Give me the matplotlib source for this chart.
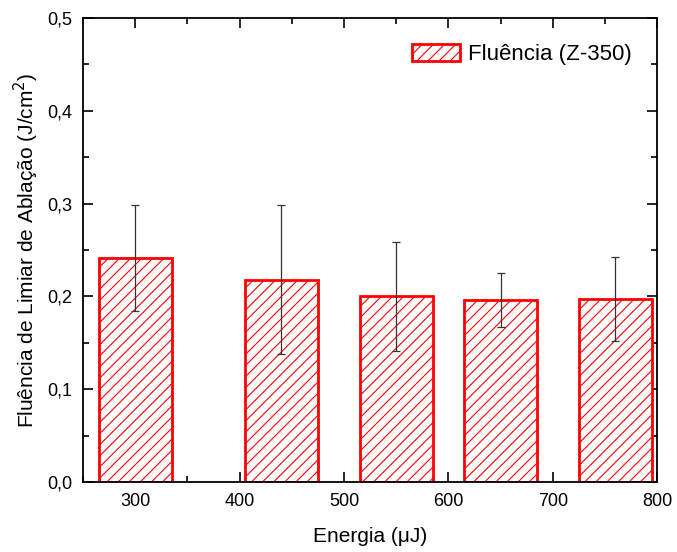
import matplotlib
matplotlib.use('Agg')
import matplotlib.pyplot as plt
from matplotlib.ticker import MultipleLocator, FuncFormatter

plt.rcParams['font.family'] = ['Liberation Sans', 'DejaVu Sans']
plt.rcParams['hatch.linewidth'] = 0.8
plt.rcParams['hatch.color'] = 'red'

# energy (uJ), threshold fluence (J/cm2) and its error
energia = [300, 440, 550, 650, 760]
fluencia = [0.241, 0.218, 0.200, 0.196, 0.197]
erro = [0.057, 0.080, 0.059, 0.029, 0.045]

fig = plt.figure(figsize=(6.77, 5.52), dpi=100)
ax = fig.add_axes([0.1226, 0.1268, 0.848, 0.8406])

ax.bar(energia, fluencia, width=70, facecolor='white', edgecolor='red',
       linewidth=2, hatch='///', label='Fluência (Z-350)', zorder=2)
ax.errorbar(energia, fluencia, yerr=erro, fmt='none', ecolor='#333333',
            elinewidth=0.9, capsize=3, capthick=0.9, zorder=3)

ax.set_xlim(250, 800)
ax.set_ylim(0, 0.5)
ax.xaxis.set_major_locator(MultipleLocator(100))
ax.xaxis.set_minor_locator(MultipleLocator(50))
ax.yaxis.set_major_locator(MultipleLocator(0.1))
ax.yaxis.set_minor_locator(MultipleLocator(0.05))
ax.yaxis.set_major_formatter(FuncFormatter(lambda v, p: f'{v:.1f}'.replace('.', ',')))

ax.tick_params(which='both', direction='in', top=True, right=True, width=1.2)
ax.tick_params(which='major', length=7, labelsize=13, pad=8)
ax.tick_params(which='minor', length=4)
for s in ax.spines.values():
    s.set_linewidth(1.3)

ax.set_xlabel('Energia (μJ)', fontsize=15, labelpad=12)
ax.set_ylabel('Fluência de Limiar de Ablação (J/cm$^2$)', fontsize=15, labelpad=4)

ax.legend(loc='upper right', frameon=False, fontsize=16, handlelength=2.15,
          handleheight=0.8, handletextpad=0.35, borderaxespad=0.85,
          borderpad=0.3)

fig.savefig('out.png', dpi=100)
